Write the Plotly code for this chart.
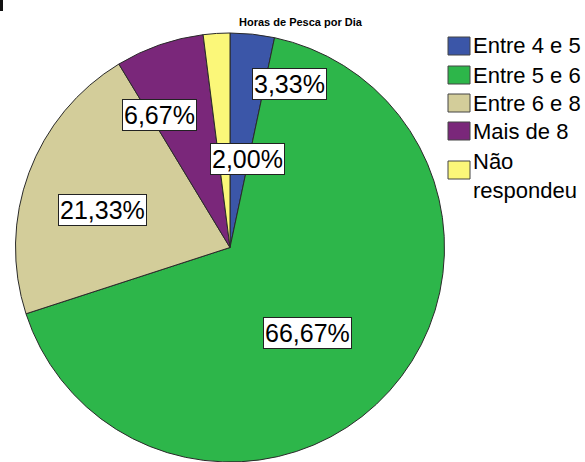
import math
import plotly.graph_objects as go

# ---- data ----
categories = ["Entre 4 e 5", "Entre 5 e 6", "Entre 6 e 8", "Mais de 8", "Não respondeu"]
legend_labels = ["Entre 4 e 5", "Entre 5 e 6", "Entre 6 e 8", "Mais de 8", "Não<br>respondeu"]
percentages = [3.33, 66.67, 21.33, 6.67, 2.00]
label_texts = ["3,33%", "66,67%", "21,33%", "6,67%", "2,00%"]
title_text = "Horas de Pesca por Dia"

# ---- style ----
colors = ["#3B56A8", "#2DB64A", "#D3CD9A", "#7A277A", "#FBF779"]
W, H = 585, 462
FONT = "Liberation Sans, Arial, sans-serif"

# pie domain (pixels from top-left)
dom_top = 33
dom_h = H - dom_top
pie_cx = 230
dom_x0 = (pie_cx - dom_h / 2) / W
dom_x1 = (pie_cx + dom_h / 2) / W
R = dom_h / 2
pie_cy = dom_top + R

# label placement: (angle nudge in degrees, radius fraction)
label_place = [(14.0, 0.81), (5.8, 0.535), (-4.1, 0.62), (-8.7, 0.70), (14.8, 0.42)]

fig = go.Figure()
fig.add_trace(go.Pie(
    labels=categories,
    values=percentages,
    sort=False,
    direction="clockwise",
    rotation=0,
    textinfo="none",
    hoverinfo="label+percent",
    marker=dict(colors=colors, line=dict(color="#2a2a2a", width=1)),
    domain=dict(x=[dom_x0, dom_x1], y=[0, dom_h / H]),
    showlegend=False,
))

annotations = []
total = sum(percentages)
cum = 0.0
for i, v in enumerate(percentages):
    mid = (cum + v / 2) / total * 360.0
    cum += v
    nudge, rf = label_place[i]
    a = math.radians(mid + nudge)
    px = pie_cx + rf * R * math.sin(a)
    py = pie_cy - rf * R * math.cos(a)
    annotations.append(dict(
        x=px / W, y=1 - py / H, xref="paper", yref="paper",
        text=label_texts[i], showarrow=False,
        font=dict(family=FONT, size=25, color="black"),
        bgcolor="white", bordercolor="#222", borderwidth=1, borderpad=1,
        xanchor="center", yanchor="middle",
    ))

# custom legend
shapes = []
leg_x0, sw_w, sw_h = 448, 22, 18
row_y = [46, 75, 103, 131, 170]
for i, lab in enumerate(legend_labels):
    cy = row_y[i]
    shapes.append(dict(
        type="rect", xref="paper", yref="paper",
        x0=leg_x0 / W, x1=(leg_x0 + sw_w) / W,
        y0=1 - (cy - sw_h / 2) / H, y1=1 - (cy + sw_h / 2) / H,
        fillcolor=colors[i], line=dict(color="#444", width=1),
    ))
    ty = cy + (6 if "<br>" in lab else 0)
    annotations.append(dict(
        x=(leg_x0 + sw_w + 1) / W, y=1 - ty / H, xref="paper", yref="paper",
        text=lab, showarrow=False, align="left",
        font=dict(family=FONT, size=22, color="black"),
        xanchor="left", yanchor="middle",
    ))

# small dark mark at top-left corner
shapes.append(dict(type="rect", xref="paper", yref="paper",
                   x0=0, x1=3 / W, y0=1, y1=1 - 11 / H,
                   fillcolor="#111", line=dict(width=0)))

annotations.append(dict(
    x=301 / W, y=1 - 22 / H, xref="paper", yref="paper",
    text="<b>" + title_text + "</b>", showarrow=False,
    font=dict(family=FONT, size=11, color="black"),
    xanchor="center", yanchor="middle",
))

fig.update_layout(
    width=W, height=H,
    margin=dict(l=0, r=0, t=0, b=0),
    paper_bgcolor="white", plot_bgcolor="white",
    annotations=annotations, shapes=shapes,
)

fig.write_html("out.html",
               config={"displayModeBar": False},
               post_script="document.body.style.margin='0';document.body.style.overflow='hidden';")
